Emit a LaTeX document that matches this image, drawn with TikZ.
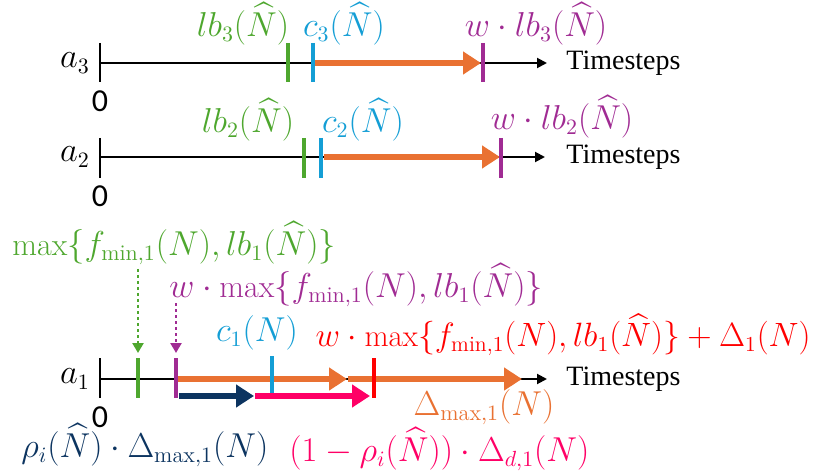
\documentclass[tikz,border=0pt]{standalone}
\usepackage{fontspec}
\usepackage{amsmath}
\newfontfamily\tnr{Liberation Serif}
\newfontfamily\calib{Carlito}
\usetikzlibrary{arrows.meta}
\definecolor{cgreen}{RGB}{78,167,46}
\definecolor{cblue}{RGB}{20,158,213}
\definecolor{corange}{RGB}{233,113,50}
\definecolor{cpurple}{RGB}{160,43,147}
\definecolor{cred}{RGB}{255,0,0}
\definecolor{cnavy}{RGB}{12,52,96}
\definecolor{cpink}{RGB}{255,0,102}
\tikzset{
  axisline/.style={line width=1pt,-{Triangle[length=5pt,width=5pt]}},
  zerotick/.style={line width=1pt},
  tick/.style={line width=2.3pt},
  bigarrow/.style={line width=3pt,-{Triangle[length=9pt,width=11pt]}},
  dotarrow/.style={line width=1.4pt,dash pattern=on 1.4pt off 1.6pt,-{Triangle[length=5pt,width=5.5pt]}},
  mathlbl/.style={inner sep=0pt,font=\fontsize{16}{19}\selectfont},
  tslbl/.style={inner sep=0pt,anchor=west,font=\fontsize{14}{17}\selectfont\tnr},
  zlbl/.style={inner sep=0pt,font=\fontsize{16}{19}\selectfont\calib},
}
\begin{document}
\begin{tikzpicture}[x=0.5pt,y=-0.5pt]
\useasboundingbox (0,0) rectangle (815,476);
% ---------- row a3
\coordinate (o3) at (100,63); \coordinate (e3) at (547,63);
\draw[axisline] (o3) -- (e3);
\draw[zerotick] (100,43) -- (100,82);
\coordinate (s3) at (315,63); \coordinate (t3) at (481,63);
\draw[bigarrow,corange] (s3) -- (t3);
\draw[tick,cgreen] (288,43) -- (288,82);
\draw[tick,cblue] (313,43) -- (313,82);
\draw[tick,cpurple] (483,43) -- (483,82);
\node[mathlbl] (a3) at (75,63) {$a_3$};
\node[zlbl] (z3) at (100,101) {0};
\node[tslbl] (ts3) at (566,63) {Timesteps};
\node[mathlbl,cgreen] (lb3) at (243,24) {$lb_3(\widehat{N})$};
\node[mathlbl,cblue] (c3) at (344,24) {$c_3(\widehat{N})$};
\node[mathlbl,cpurple] (w3) at (536,24) {$w\cdot lb_3(\widehat{N})$};
% ---------- row a2
\coordinate (o2) at (100,157); \coordinate (e2) at (545,157);
\draw[axisline] (o2) -- (e2);
\draw[zerotick] (100,138) -- (100,178);
\coordinate (s2) at (324,157); \coordinate (t2) at (500,157);
\draw[bigarrow,corange] (s2) -- (t2);
\draw[tick,cgreen] (304,138) -- (304,178);
\draw[tick,cblue] (321,138) -- (321,178);
\draw[tick,cpurple] (501,138) -- (501,178);
\node[mathlbl] (a2) at (75,157) {$a_2$};
\node[zlbl] (z2) at (100,196) {0};
\node[tslbl] (ts2) at (566,157) {Timesteps};
\node[mathlbl,cgreen] (lb2) at (248,120) {$lb_2(\widehat{N})$};
\node[mathlbl,cblue] (c2) at (363,120) {$c_2(\widehat{N})$};
\node[mathlbl,cpurple] (w2) at (562,117) {$w\cdot lb_2(\widehat{N})$};
% ---------- row a1
\coordinate (o1) at (100,379); \coordinate (e1) at (547,379);
\draw[axisline] (o1) -- (e1);
\draw[zerotick] (100,358) -- (100,398);
\coordinate (s1a) at (178,379); \coordinate (t1a) at (347,379);
\coordinate (s1b) at (348,379); \coordinate (t1b) at (522,379);
\draw[bigarrow,corange] (s1a) -- (t1a);
\draw[bigarrow,corange] (s1b) -- (t1b);
\draw[tick,cgreen] (138,358) -- (138,398);
\draw[tick,cpurple] (176,358) -- (176,398);
\draw[tick,cblue] (272,356) -- (272,393);
\draw[tick,cred] (374,358) -- (374,398);
\coordinate (sn) at (179,396); \coordinate (tn) at (254,396);
\coordinate (sp) at (255,396); \coordinate (tp) at (370,396);
\draw[bigarrow,cnavy] (sn) -- (tn);
\draw[bigarrow,cpink] (sp) -- (tp);
\coordinate (dg0) at (138,269); \coordinate (dg1) at (138,353);
\coordinate (dp0) at (176,303); \coordinate (dp1) at (176,353);
\draw[dotarrow,cgreen] (dg0) -- (dg1);
\draw[dotarrow,cpurple] (dp0) -- (dp1);
\node[mathlbl] (a1) at (75,379) {$a_1$};
\node[zlbl] (z1) at (100,417) {0};
\node[tslbl] (ts1) at (566,379) {Timesteps};
\node[mathlbl,cgreen,anchor=west] (mx) at (12,243) {$\max\{f_{\mathrm{min},1}(N),lb_1(\widehat{N})\}$};
\node[mathlbl,cpurple,anchor=west] (wmx) at (169,285) {$w\cdot\max\{f_{\mathrm{min},1}(N),lb_1(\widehat{N})\}$};
\node[mathlbl,cblue] (c1) at (257,333) {$c_1(N)$};
\node[mathlbl,cred,anchor=east,scale=0.975] (rmx) at (811,335) {$w\cdot\max\{f_{\mathrm{min},1}(N),lb_1(\widehat{N})\}+\Delta_1(N)$};
\node[mathlbl,corange] (dmax) at (484,407) {$\Delta_{\mathrm{max},1}(N)$};
\node[mathlbl,cnavy,anchor=west] (rho) at (21,445) {$\rho_i(\widehat{N})\cdot\Delta_{\mathrm{max},1}(N)$};
\node[mathlbl,cpink,anchor=west] (orho) at (289,449) {$(1-\rho_i(\widehat{N}))\cdot\Delta_{d,1}(N)$};
\end{tikzpicture}
\end{document}
